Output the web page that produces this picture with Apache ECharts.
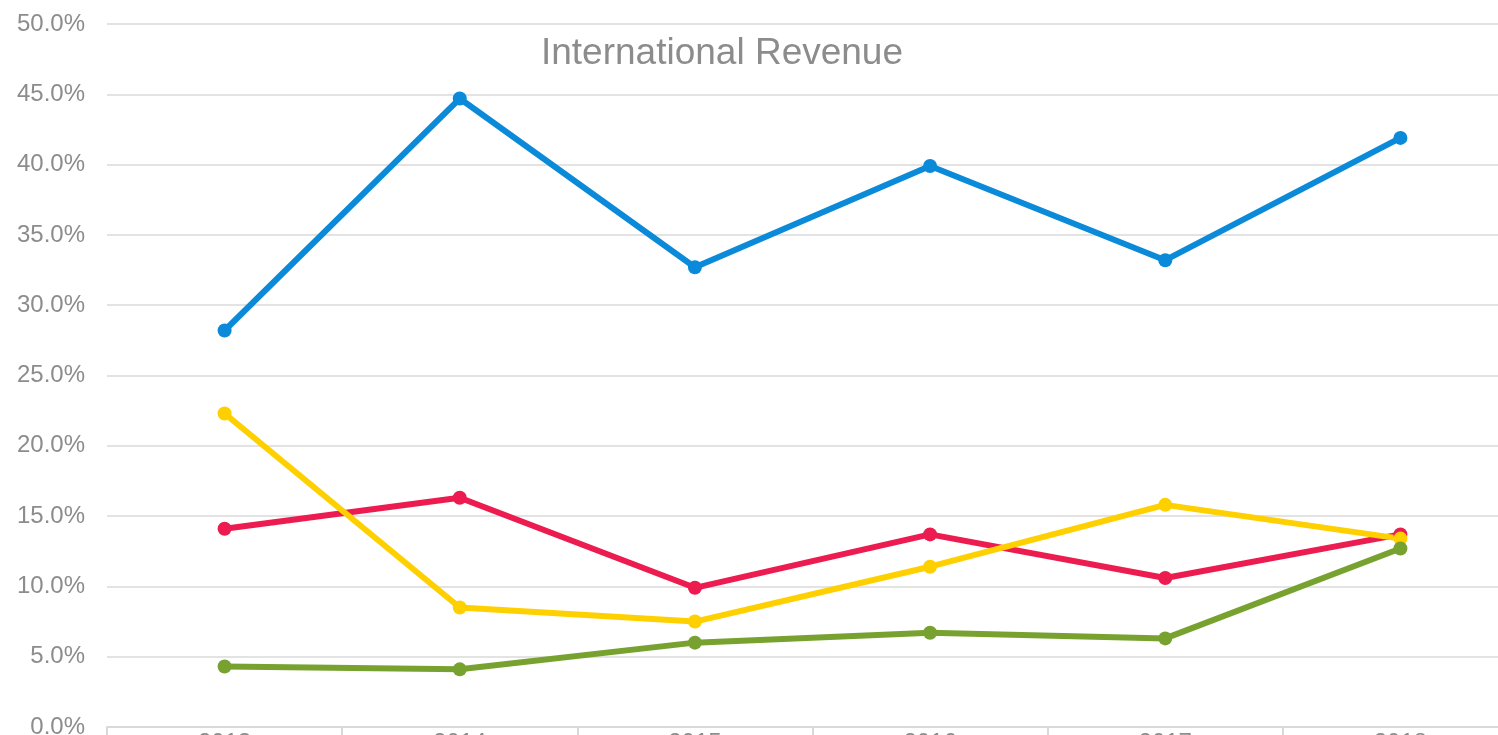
<!DOCTYPE html>
<html>
<head>
<meta charset="utf-8">
<script src="https://cdn.jsdelivr.net/npm/echarts@6/dist/echarts.min.js"></script>
<style>html,body{margin:0;padding:0;background:#fff}#c{width:1498px;height:735px}</style>
</head>
<body>
<div id="c"></div>
<script>
const categories = ['2013', '2014', '2015', '2016', '2017', '2018'];
const blueValues = [28.2, 44.7, 32.7, 39.9, 33.2, 41.9];
const redValues = [14.1, 16.3, 9.9, 13.7, 10.6, 13.7];
const yellowValues = [22.3, 8.5, 7.5, 11.4, 15.8, 13.4];
const greenValues = [4.3, 4.1, 6.0, 6.7, 6.3, 12.7];
const titleText = 'International Revenue';

const chart = echarts.init(document.getElementById('c'));
function mk(name, data, color) {
  return {
    name, type: 'line', data,
    symbol: 'circle', symbolSize: 14,
    lineStyle: { color, width: 6 },
    itemStyle: { color },
    emphasis: { disabled: true }
  };
}
chart.setOption({
  animation: false,
  backgroundColor: '#ffffff',
  title: {
    text: titleText, left: 717, top: 30, textAlign: 'center',
    textStyle: { fontFamily: 'Liberation Sans', fontSize: 37, fontWeight: 'normal', color: '#8c8c8c' }
  },
  grid: { left: 107, top: 24, width: 1411, bottom: 8, containLabel: false, outerBoundsMode: 'none' },
  xAxis: {
    type: 'category', data: categories, boundaryGap: true,
    axisLine: { lineStyle: { color: '#d9d9d9', width: 2 } },
    axisTick: { show: true, length: 10, lineStyle: { color: '#d9d9d9', width: 2 } },
    axisLabel: { margin: 4, fontFamily: 'Liberation Sans', fontSize: 24, color: '#8c8c8c' },
    splitLine: { show: false }
  },
  yAxis: {
    type: 'value', min: 0, max: 50, interval: 5,
    axisLine: { show: false }, axisTick: { show: false },
    axisLabel: { margin: 22, fontFamily: 'Liberation Sans', fontSize: 24, color: '#8c8c8c',
      formatter: v => v.toFixed(1) + '%' },
    splitLine: { lineStyle: { color: '#e3e3e3', width: 2 } }
  },
  series: [
    mk('Blue', blueValues, '#0a8ad8'),
    mk('Red', redValues, '#ec1c50'),
    mk('Yellow', yellowValues, '#ffd000'),
    mk('Green', greenValues, '#78a22f')
  ]
});
</script>
</body>
</html>
